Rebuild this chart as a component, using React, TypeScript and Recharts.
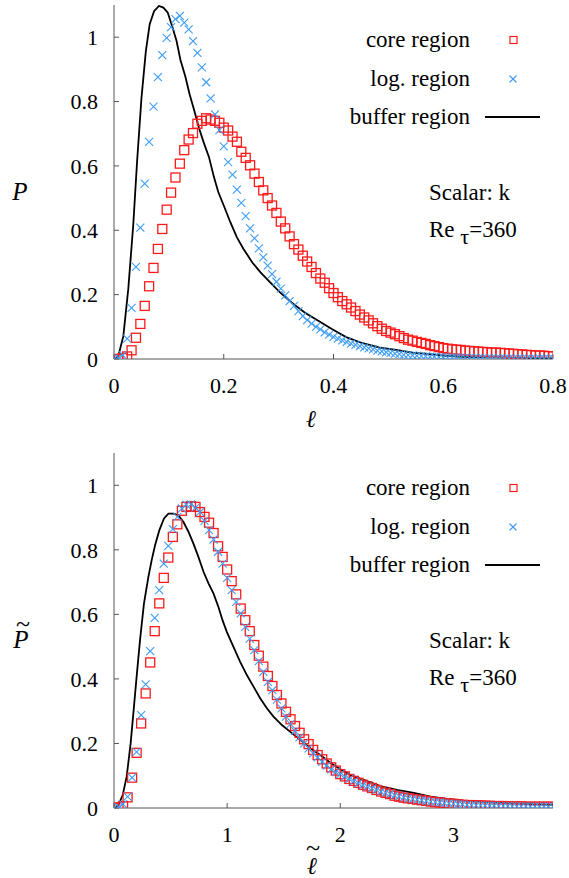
import { ComposedChart, Scatter, Line, XAxis, YAxis } from "recharts";

const SERIF = "Liberation Serif";
const RED = "#ff1a1a";
const BLUE = "#3d9cf5";
const AXIS = "#555";

// top panel: P vs l, bins of 0.008
const topX = [0,0.008,0.016,0.024,0.032,0.04,0.048,0.056,0.064,0.072,0.08,0.088,0.096,0.104,0.112,0.12,0.128,0.136,0.144,0.152,0.16,0.168,0.176,0.184,0.192,0.2,0.208,0.216,0.224,0.232,0.24,0.248,0.256,0.264,0.272,0.28,0.288,0.296,0.304,0.312,0.32,0.328,0.336,0.344,0.352,0.36,0.368,0.376,0.384,0.392,0.4,0.408,0.416,0.424,0.432,0.44,0.448,0.456,0.464,0.472,0.48,0.488,0.496,0.504,0.512,0.52,0.528,0.536,0.544,0.552,0.56,0.568,0.576,0.584,0.592,0.6,0.608,0.616,0.624,0.632,0.64,0.648,0.656,0.664,0.672,0.68,0.688,0.696,0.704,0.712,0.72,0.728,0.736,0.744,0.752,0.76,0.768,0.776,0.784,0.792,0.8];
const topCore = [0,0,0.003,0.008,0.027,0.066,0.109,0.165,0.226,0.283,
  0.342,0.404,0.464,0.517,0.564,0.607,0.649,0.682,0.702,0.731,
  0.74,0.748,0.744,0.74,0.734,0.719,0.71,0.691,0.675,0.644,
  0.625,0.602,0.576,0.55,0.524,0.5,0.477,0.454,0.427,0.406,
  0.381,0.357,0.34,0.321,0.303,0.286,0.267,0.25,0.237,0.22,
  0.205,0.192,0.18,0.17,0.16,0.149,0.138,0.129,0.12,0.111,
  0.102,0.094,0.087,0.082,0.077,0.071,0.065,0.06,0.057,0.053,
  0.05,0.047,0.043,0.04,0.037,0.034,0.032,0.03,0.029,0.028,
  0.026,0.025,0.024,0.023,0.022,0.021,0.02,0.02,0.019,0.018,
  0.017,0.016,0.015,0.014,0.013,0.012,0.011,0.011,0.01,0.009,
  0.008];
const topLog = [0,0.003,0.012,0.063,0.159,0.286,0.408,0.545,0.675,0.784,
  0.876,0.944,0.998,1.031,1.056,1.066,1.045,1.024,0.988,0.951,
  0.906,0.86,0.81,0.76,0.711,0.661,0.612,0.573,0.526,0.485,
  0.444,0.406,0.375,0.344,0.316,0.29,0.264,0.24,0.219,0.198,
  0.18,0.165,0.149,0.133,0.121,0.11,0.1,0.092,0.083,0.076,
  0.069,0.063,0.058,0.053,0.048,0.044,0.04,0.036,0.033,0.03,
  0.026,0.024,0.021,0.019,0.017,0.015,0.013,0.012,0.011,0.01,
  0.009,0.008,0.007,0.007,0.006,0.006,0.005,0.005,0.004,0.004,
  0.004,0.003,0.003,0.003,0.003,0.002,0.002,0.002,0.002,0.002,
  0.002,0.001,0.001,0.001,0.001,0.001,0.001,0.001,0.001,0.001,
  0.001];
const topBufX = [0,0.008,0.017,0.026,0.035,0.042,0.05,0.058,0.065,0.073,0.082,0.09,0.098,0.106,0.114,0.121,0.13,0.138,0.146,0.155,0.164,0.173,0.182,0.19,0.2,0.212,0.224,0.236,0.252,0.267,0.285,0.303,0.324,0.348,0.373,0.397,0.423,0.453,0.484,0.514,0.544,0.575,0.605,0.635,0.696,0.75,0.8];
const topBufY = [0,0.01,0.071,0.217,0.415,0.612,0.81,0.956,1.04,1.081,1.097,1.092,1.076,1.034,0.988,0.93,0.878,0.821,0.774,0.717,0.67,0.628,0.566,0.519,0.477,0.425,0.378,0.342,0.3,0.269,0.237,0.206,0.175,0.144,0.118,0.093,0.068,0.049,0.035,0.028,0.02,0.015,0.01,0.007,0.005,0.003,0.002];

// bottom panel: normalised, bins of 0.04
const botX = [0,0.04,0.08,0.12,0.16,0.2,0.24,0.28,0.32,0.36,0.4,0.44,0.48,0.52,0.56,0.6,0.64,0.68,0.72,0.76,0.8,0.84,0.88,0.92,0.96,1,1.04,1.08,1.12,1.16,1.2,1.24,1.28,1.32,1.36,1.4,1.44,1.48,1.52,1.56,1.6,1.64,1.68,1.72,1.76,1.8,1.84,1.88,1.92,1.96,2,2.04,2.08,2.12,2.16,2.2,2.24,2.28,2.32,2.36,2.4,2.44,2.48,2.52,2.56,2.6,2.64,2.68,2.72,2.76,2.8,2.84,2.88,2.92,2.96,3,3.04,3.08,3.12,3.16,3.2,3.24,3.28,3.32,3.36,3.4,3.44,3.48,3.52,3.56,3.6,3.64,3.68,3.72,3.76,3.8,3.84,3.88];
const botCore = [0,0.002,0.006,0.033,0.094,0.171,0.262,0.355,0.451,0.548,
  0.634,0.713,0.776,0.84,0.879,0.921,0.933,0.935,0.933,0.917,
  0.902,0.884,0.852,0.811,0.778,0.739,0.703,0.662,0.618,0.582,
  0.548,0.505,0.472,0.438,0.409,0.378,0.35,0.324,0.298,0.275,
  0.254,0.233,0.213,0.198,0.18,0.164,0.151,0.138,0.126,0.116,
  0.105,0.098,0.09,0.084,0.078,0.072,0.067,0.062,0.056,0.051,
  0.047,0.043,0.038,0.035,0.032,0.03,0.028,0.026,0.024,0.022,
  0.02,0.018,0.017,0.015,0.014,0.013,0.011,0.01,0.009,0.009,
  0.008,0.008,0.007,0.007,0.006,0.006,0.006,0.005,0.005,0.005,
  0.005,0.004,0.004,0.004,0.004,0.004,0.004,0.004];
const botLog = [0,0.003,0.012,0.035,0.094,0.174,0.288,0.383,0.486,0.589,
  0.675,0.757,0.812,0.864,0.902,0.928,0.94,0.941,0.931,0.917,
  0.89,0.861,0.832,0.794,0.757,0.713,0.675,0.639,0.603,0.561,
  0.525,0.489,0.455,0.422,0.391,0.365,0.336,0.309,0.283,0.26,
  0.239,0.219,0.2,0.185,0.169,0.157,0.143,0.131,0.12,0.112,
  0.105,0.097,0.09,0.083,0.077,0.071,0.066,0.061,0.056,0.051,
  0.047,0.043,0.039,0.036,0.033,0.03,0.028,0.026,0.024,0.022,
  0.02,0.018,0.017,0.015,0.014,0.013,0.012,0.011,0.01,0.009,
  0.008,0.008,0.007,0.007,0.007,0.006,0.006,0.006,0.005,0.005,
  0.005,0.005,0.004,0.004,0.004,0.004,0.004,0.004];
const botBufX = [0,0.038,0.077,0.112,0.147,0.171,0.2,0.23,0.265,0.304,0.333,0.363,0.401,0.442,0.481,0.525,0.569,0.614,0.658,0.702,0.746,0.791,0.835,0.879,0.923,0.959,0.997,1.056,1.115,1.174,1.233,1.292,1.351,1.41,1.484,1.558,1.646,1.735,1.823,1.912,2,2.09,2.206,2.354,2.5,2.65,2.796,2.944,3.09,3.24,3.386,3.68,3.88];
const botBufY = [0,0.009,0.04,0.097,0.2,0.293,0.407,0.52,0.634,0.716,0.768,0.814,0.861,0.897,0.912,0.912,0.907,0.886,0.856,0.819,0.778,0.732,0.696,0.665,0.623,0.582,0.546,0.499,0.453,0.412,0.376,0.34,0.309,0.283,0.257,0.236,0.211,0.185,0.164,0.14,0.12,0.102,0.087,0.068,0.056,0.047,0.035,0.028,0.023,0.02,0.017,0.012,0.01];

const yTicks = [0, 0.2, 0.4, 0.6, 0.8, 1];
const zip = (xs: number[], ys: number[]) => xs.map((x, i) => ({ x, y: ys[i] }));
const serifStyle = { fontFamily: SERIF };

const Square = (p: any) => (
  <rect x={p.cx - 4.5} y={p.cy - 4.5} width={9} height={9} fill="none" stroke={RED} strokeWidth={1.3} />
);
const Cross = (p: any) => (
  <g stroke={BLUE} strokeWidth={1.1}>
    <line x1={p.cx - 4} y1={p.cy - 4} x2={p.cx + 4} y2={p.cy + 4} />
    <line x1={p.cx - 4} y1={p.cy + 4} x2={p.cx + 4} y2={p.cy - 4} />
  </g>
);

function Panel({ xs, core, log, bufX, bufY, xDomain, xTicks, height, bottom }: any) {
  const tick = { fill: "#000", fontSize: 22, fontFamily: SERIF, style: serifStyle };
  return (
    <ComposedChart width={569} height={height} margin={{ top: 5, right: 16, left: 0, bottom }} style={serifStyle}>
      <XAxis xAxisId="b" type="number" dataKey="x" domain={xDomain} ticks={xTicks} allowDataOverflow
        tick={tick} stroke={AXIS} tickSize={-5} tickMargin={23} height={50} interval={0} />
      <XAxis xAxisId="t" orientation="top" type="number" dataKey="x" domain={xDomain} ticks={xTicks} allowDataOverflow
        tick={false} stroke={AXIS} tickSize={-5} height={0} interval={0} />
      <YAxis yAxisId="l" type="number" dataKey="y" domain={[0, 1.1]} ticks={yTicks} allowDataOverflow
        tick={tick} stroke={AXIS} tickSize={-5} tickMargin={21} width={114} interval={0} />
      <YAxis yAxisId="r" orientation="right" type="number" dataKey="y" domain={[0, 1.1]} ticks={yTicks} allowDataOverflow
        tick={false} stroke={AXIS} tickSize={-5} width={0} interval={0} />
      <Scatter xAxisId="t" yAxisId="r" data={zip(xs, core)} shape={() => null} isAnimationActive={false} />
      <Scatter xAxisId="b" yAxisId="l" data={zip(xs, core)} shape={<Square />} isAnimationActive={false} />
      <Scatter xAxisId="b" yAxisId="l" data={zip(xs, log)} shape={<Cross />} isAnimationActive={false} />
      <Line xAxisId="b" yAxisId="l" data={zip(bufX, bufY)} dataKey="y" type="linear" stroke="#000"
        strokeWidth={1.8} dot={false} activeDot={false} isAnimationActive={false} />
    </ComposedChart>
  );
}

function Legend({ y0 }: { y0: number }) {
  const t = { fontFamily: SERIF, fontSize: 23, fill: "#000", style: serifStyle };
  return (
    <g>
      <text x={470} y={y0 + 47} textAnchor="end" {...t}>core region</text>
      <rect x={510} y={y0 + 36.5} width={7} height={7} fill="none" stroke={RED} strokeWidth={1.2} />
      <text x={470} y={y0 + 86} textAnchor="end" {...t}>log. region</text>
      <g stroke={BLUE} strokeWidth={1.1}>
        <line x1={509.5} y1={y0 + 75.5} x2={516.5} y2={y0 + 82.5} />
        <line x1={509.5} y1={y0 + 82.5} x2={516.5} y2={y0 + 75.5} />
      </g>
      <text x={470} y={y0 + 124} textAnchor="end" {...t}>buffer region</text>
      <line x1={485} y1={y0 + 117} x2={540} y2={y0 + 117} stroke="#000" strokeWidth={1.8} />
      <text x={429} y={y0 + 200} {...t}>Scalar: k</text>
      <text x={429} y={y0 + 237} {...t}>
        Re <tspan dy={7} fontSize={22}>τ</tspan><tspan dy={-7}>=360</tspan>
      </text>
    </g>
  );
}

export default function App() {
  const lab = { fontFamily: SERIF, fill: "#000", style: serifStyle };
  return (
    <div style={{ position: "absolute", left: 0, top: 0, width: 569, height: 878, background: "#fff", fontFamily: SERIF }}>
      <div style={{ position: "absolute", left: 0, top: 0 }}>
        <Panel xs={topX} core={topCore} log={topLog} bufX={topBufX} bufY={topBufY}
          xDomain={[0, 0.8]} xTicks={[0, 0.2, 0.4, 0.6, 0.8]} height={440} bottom={31} />
      </div>
      <div style={{ position: "absolute", left: 0, top: 448 }}>
        <Panel xs={botX} core={botCore} log={botLog} bufX={botBufX} bufY={botBufY}
          xDomain={[0, 3.88]} xTicks={[0, 1, 2, 3]} height={430} bottom={20} />
      </div>
      <svg width={569} height={878} style={{ position: "absolute", left: 0, top: 0, pointerEvents: "none", fontFamily: SERIF }}>
        <Legend y0={0} />
        <Legend y0={448} />
        <text x={20} y={200} textAnchor="middle" fontSize={25} fontStyle="italic" {...lab}>P</text>
        <text x={21} y={648} textAnchor="middle" fontSize={25} fontStyle="italic" {...lab}>P</text>
        <text x={23} y={632} textAnchor="middle" fontSize={26} {...lab}>~</text>
        <text x={311} y={427} textAnchor="middle" fontSize={24} fontStyle="italic" {...lab}>ℓ</text>
        <text x={312} y={874} textAnchor="middle" fontSize={24} fontStyle="italic" {...lab}>ℓ</text>
        <text x={313} y={856} textAnchor="middle" fontSize={26} {...lab}>~</text>
      </svg>
    </div>
  );
}
